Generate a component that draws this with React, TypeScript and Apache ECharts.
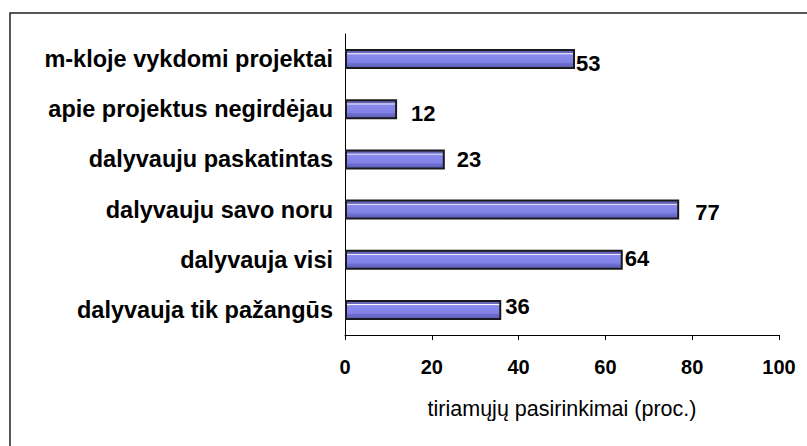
import React, { useEffect, useRef } from "react";
import * as echarts from "echarts";

const categories = [
  "dalyvauja tik pažangūs",
  "dalyvauja visi",
  "dalyvauju savo noru",
  "dalyvauju paskatintas",
  "apie projektus negirdėjau",
  "m-kloje vykdomi projektai",
];
const values = [36, 64, 77, 23, 12, 53];
const xTicks = { min: 0, max: 100, interval: 20 };
const axisName = "tiriamųjų pasirinkimai (proc.)";
// label placement tweaks (distance from bar end, vertical shift), bottom to top
const labelDistance = [4, 2, 16, 12, 14, 1];
const labelShiftY = [-3, -1.5, 2.5, 0.5, 4.5, 4.5];

export default function App() {
  const ref = useRef<HTMLDivElement>(null);
  useEffect(() => {
    document.body.style.margin = "0";
    const chart = echarts.init(ref.current!, null, { renderer: "svg" });
    const font = "Arial, 'Liberation Sans', sans-serif";
    const barFill = new echarts.graphic.LinearGradient(0, 0, 0, 1, [
      { offset: 0, color: "#5c5cae" },
      { offset: 0.16, color: "#6a6ac0" },
      { offset: 0.2, color: "#ffffff" },
      { offset: 0.26, color: "#8a8aee" },
      { offset: 0.68, color: "#8282e6" },
      { offset: 0.74, color: "#7070d2" },
      { offset: 1, color: "#5c5cb6" },
    ]);
    chart.setOption({
      animation: false,
      backgroundColor: "#ffffff",
      textStyle: { fontFamily: font },
      graphic: [
        {
          type: "rect",
          shape: { x: 10, y: 13, width: 900, height: 460 },
          style: { fill: "none", stroke: "#222", lineWidth: 1.5 },
          silent: true,
          z: -1,
        },
      ],
      grid: { left: 345, right: 28, top: 34, bottom: 111, containLabel: false },
      xAxis: {
        type: "value",
        min: xTicks.min,
        max: xTicks.max,
        interval: xTicks.interval,
        name: axisName,
        nameLocation: "middle",
        nameGap: 63,
        nameTextStyle: { fontSize: 21.5, color: "#000", fontFamily: font },
        axisLine: { show: true, lineStyle: { color: "#000", width: 1 } },
        axisTick: { show: true, length: 5, lineStyle: { color: "#000" } },
        splitLine: { show: false },
        axisLabel: {
          margin: 22,
          fontSize: 20,
          fontWeight: "bold",
          color: "#000",
          fontFamily: font,
        },
      },
      yAxis: {
        type: "category",
        data: categories,
        axisLine: { show: true, lineStyle: { color: "#000", width: 1 } },
        axisTick: { show: false },
        axisLabel: {
          margin: 12,
          fontSize: 23.5,
          fontWeight: "bold",
          color: "#000",
          fontFamily: font,
        },
      },
      series: [
        {
          type: "bar",
          barWidth: 20,
          data: values.map((v, i) => ({
            value: v,
            label: {
              distance: labelDistance[i],
              offset: [0, labelShiftY[i]],
            },
          })),
          itemStyle: { color: barFill, borderColor: "#1a1a1a", borderWidth: 2 },
          label: {
            show: true,
            position: "right",
            fontSize: 22,
            fontWeight: "bold",
            color: "#000",
            fontFamily: font,
          },
        },
      ],
    });
    return () => chart.dispose();
  }, []);
  return <div ref={ref} style={{ width: 807, height: 446 }} />;
}
